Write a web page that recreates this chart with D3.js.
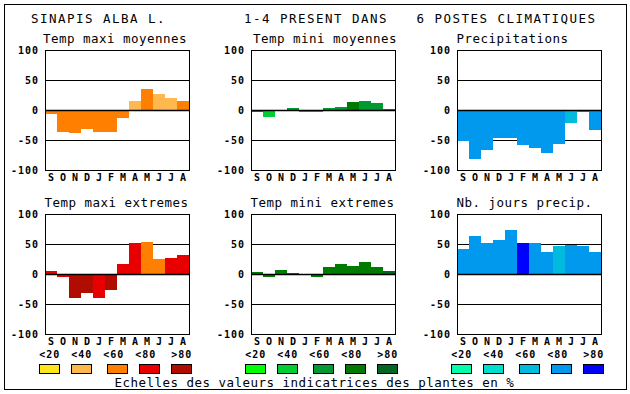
<!DOCTYPE html>
<html>
<head>
<meta charset="utf-8">
<script src="https://cdn.jsdelivr.net/npm/d3@7"></script>
<style>
  body { margin: 0; background: #fff; }
  svg { display: block; }
</style>
</head>
<body>
<svg id="chart" width="630" height="394"></svg>
<script>
const MONTHS = ['S', 'O', 'N', 'D', 'J', 'F', 'M', 'A', 'M', 'J', 'J', 'A']
const TICKS = [100, 50, 0, -50, -100]
const CLASS_LABELS = ['<20', '<40', '<60', '<80', '>80']

const ORANGES = ['#ffe61a', '#ffb84d', '#ff8000', '#e80000', '#b00c00']
const GREENS = ['#00ff00', '#00cc33', '#009933', '#007a00', '#006622']
const BLUES = ['#00ffaa', '#00ddcc', '#00bbdd', '#0099ee', '#0000ff']

const HEADER = ['SINAPIS ALBA L.', '1-4 PRESENT DANS', '6 POSTES CLIMATIQUES']
const FOOTER = 'Echelles des valeurs indicatrices des plantes en %'

// values, class = index in the colour scale
const maxiMoy = [-6, -36, -38, -32, -36, -36, -14, 15, 35, 27, 20, 15]
const maxiMoyCls = [2, 2, 2, 2, 2, 2, 2, 1, 2, 1, 1, 2]
const miniMoy = [-4, -12, 0, 3, -3, -4, 3, 5, 13, 15, 12, 2]
const miniMoyCls = [2, 1, 2, 2, 1, 1, 2, 2, 3, 2, 2, 2]
const precip = [-52, -81, -66, -47, -47, -58, -63, -71, -56, -21, -3, -33]
const precipCls = [3, 3, 3, 3, 3, 3, 3, 3, 3, 2, 3, 3]
const maxiExt = [5, -5, -40, -32, -40, -27, 17, 52, 54, 25, 27, 32]
const maxiExtCls = [3, 3, 4, 4, 3, 4, 3, 3, 2, 2, 3, 3]
const miniExt = [4, -5, 7, 2, -2, -5, 12, 17, 14, 20, 12, 5]
const miniExtCls = [3, 3, 3, 3, 3, 3, 3, 3, 3, 3, 3, 4]
const joursPrecip = [42, 64, 52, 57, 74, 52, 52, 37, 46, 49, 46, 36]
const joursPrecipCls = [3, 3, 3, 3, 3, 4, 3, 3, 2, 3, 3, 3]

const MONO = 'DejaVu Sans Mono, monospace'

const svg = d3.select('#chart')

const colLeft = [45, 251, 457]
const rowTop = [50, 214]
const plotW = 144, plotH = 120

const panels = [
  {title: 'Temp maxi moyennes', values: maxiMoy, cls: maxiMoyCls, colors: ORANGES, col: 0, row: 0, tx: 43},
  {title: 'Temp mini moyennes', values: miniMoy, cls: miniMoyCls, colors: GREENS, col: 1, row: 0, tx: 253},
  {title: 'Precipitations', values: precip, cls: precipCls, colors: BLUES, col: 2, row: 0, tx: 456.5},
  {title: 'Temp maxi extremes', values: maxiExt, cls: maxiExtCls, colors: ORANGES, col: 0, row: 1, tx: 44.5},
  {title: 'Temp mini extremes', values: miniExt, cls: miniExtCls, colors: GREENS, col: 1, row: 1, tx: 250.5},
  {title: 'Nb. jours precip.', values: joursPrecip, cls: joursPrecipCls, colors: BLUES, col: 2, row: 1, tx: 456.5}
]

// outer frame
svg.append('rect')
  .attr('x', 4.5).attr('y', 4.5)
  .attr('width', 622).attr('height', 385)
  .attr('fill', 'none').attr('stroke', '#000')

const headerX = [31, 244, 416.5]
svg.append('g')
  .selectAll('text')
  .data(HEADER)
  .join('text')
  .attr('x', (d, i) => headerX[i])
  .attr('y', 23)
  .attr('font-family', MONO)
  .attr('font-size', 12.5)
  .attr('letter-spacing', 1.47)
  .text(d => d)

panels.forEach(p => {
  const left = colLeft[p.col]
  const top = rowTop[p.row]

  const x = d3.scaleBand().domain(d3.range(12)).range([left, left + plotW])
  const y = d3.scaleLinear().domain([-100, 100]).range([top + plotH, top])

  const g = svg.append('g')

  g.append('text')
    .attr('x', p.tx)
    .attr('y', top - 7.5)
    .attr('font-family', MONO)
    .attr('font-size', 12.5)
    .attr('letter-spacing', 0.47)
    .text(p.title)

  // grid at +-50
  g.selectAll('line.grid')
    .data([50, -50])
    .join('line')
    .attr('class', 'grid')
    .attr('x1', left).attr('x2', left + plotW)
    .attr('y1', d => y(d) + 0.5).attr('y2', d => y(d) + 0.5)
    .attr('stroke', '#000')

  g.selectAll('rect.bar')
    .data(p.values)
    .join('rect')
    .attr('class', 'bar')
    .attr('x', (d, i) => x(i))
    .attr('width', x.bandwidth())
    .attr('y', d => Math.min(y(d), y(0)))
    .attr('height', d => Math.abs(y(d) - y(0)))
    .attr('fill', (d, i) => p.colors[p.cls[i]])
    .attr('shape-rendering', 'crispEdges')

  // zero line, a bit heavier
  g.append('line')
    .attr('x1', left).attr('x2', left + plotW)
    .attr('y1', y(0) + 0.5).attr('y2', y(0) + 0.5)
    .attr('stroke', '#000').attr('stroke-width', 1.6)

  g.append('rect')
    .attr('x', left + 0.5).attr('y', top + 0.5)
    .attr('width', plotW).attr('height', plotH)
    .attr('fill', 'none').attr('stroke', '#000')

  g.selectAll('text.tick')
    .data(TICKS)
    .join('text')
    .attr('class', 'tick')
    .attr('x', left - 6)
    .attr('y', d => y(d) + 4)
    .attr('text-anchor', 'end')
    .attr('font-family', MONO)
    .attr('font-weight', 'bold')
    .attr('font-size', 10)
    .attr('letter-spacing', 1)
    .text(d => d)

  g.selectAll('text.month')
    .data(MONTHS)
    .join('text')
    .attr('class', 'month')
    .attr('x', (d, i) => x(i) + x.bandwidth() / 2 + 0.5)
    .attr('y', top + plotH + 10.7)
    .attr('text-anchor', 'middle')
    .attr('font-family', MONO)
    .attr('font-weight', 'bold')
    .attr('font-size', 10)
    .attr('letter-spacing', 1)
    .text(d => d)
})

// colour scales under the panels
const labelOff = [0, 32, 64, 96, 132]
const boxOff = [0, 32, 68, 100, 132]
const scales = [ORANGES, GREENS, BLUES]

scales.forEach((cols, k) => {
  const gs = colLeft[k] - 5.7
  const lg = svg.append('g')

  lg.selectAll('text')
    .data(CLASS_LABELS)
    .join('text')
    .attr('x', (d, i) => gs + labelOff[i])
    .attr('y', 357.5)
    .attr('font-family', MONO)
    .attr('font-weight', 'bold')
    .attr('font-size', 10)
    .attr('letter-spacing', 1)
    .text(d => d)

  lg.selectAll('rect')
    .data(cols)
    .join('rect')
    .attr('x', (d, i) => Math.round(gs + boxOff[i]) + 0.5)
    .attr('y', 364.5)
    .attr('width', 20)
    .attr('height', 9)
    .attr('fill', d => d)
    .attr('stroke', '#000')
})

svg.append('text')
  .attr('x', 114.5)
  .attr('y', 386.7)
  .attr('font-family', MONO)
  .attr('font-size', 12.5)
  .attr('letter-spacing', 0.47)
  .text(FOOTER)
</script>
</body>
</html>
